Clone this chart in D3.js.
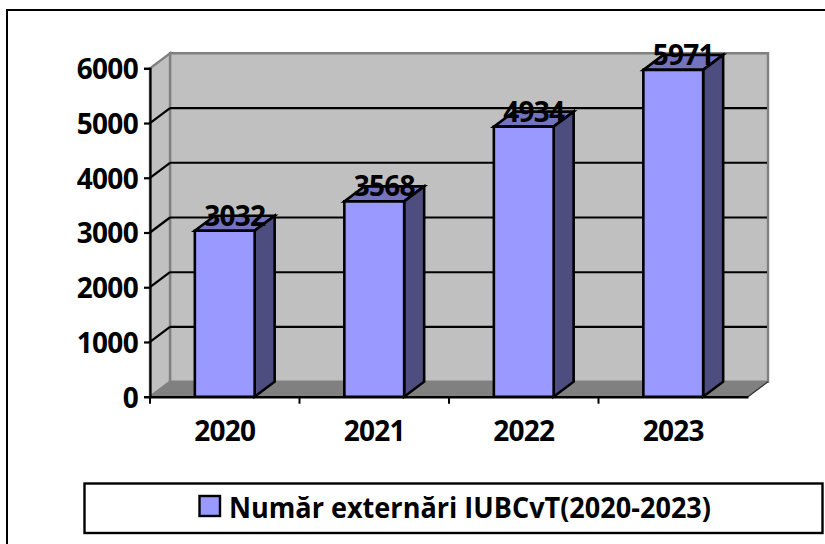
<!DOCTYPE html>
<html>
<head>
<meta charset="utf-8">
<title>Număr externări IUBCvT</title>
<script src="https://cdn.jsdelivr.net/npm/d3@7/dist/d3.min.js"></script>
<style>
  body { margin: 0; background: #fff; }
  text { font-family: "Open Sans", sans-serif; font-weight: 700; fill: #000; }
  .tick text, .value { font-family: "Open Sans", sans-serif; font-weight: 700; letter-spacing: -0.7px; }
</style>
</head>
<body>
<svg id="chart" width="825" height="544"></svg>
<script>
var years = ["2020", "2021", "2022", "2023"];
var externari = [3032, 3568, 4934, 5971];
var yTicks = [0, 1000, 2000, 3000, 4000, 5000, 6000];
var legendLabel = "Număr externări IUBCvT(2020-2023)";

var svg = d3.select("#chart");

// 3D offset of the back wall
var dx = 20, dy = -15;
var left = 150, right = 748, top6000 = 68.3, bottom = 396.7;
var fontSize = 28;
var barStroke = 2.6;

var x = d3.scaleBand().domain(years).range([left, right]).paddingInner(0.6).paddingOuter(0.3);
var y = d3.scaleLinear().domain([0, 6000]).range([bottom, top6000]);

function poly(points, fill, stroke, width) {
  return svg.append("polygon")
    .attr("points", points.map(function (p) { return p.join(","); }).join(" "))
    .attr("fill", fill)
    .attr("stroke", stroke)
    .attr("stroke-width", width)
    .attr("stroke-linejoin", "miter");
}

function line(x1, y1, x2, y2, color, width) {
  return svg.append("line")
    .attr("x1", x1).attr("y1", y1).attr("x2", x2).attr("y2", y2)
    .attr("stroke", color).attr("stroke-width", width);
}

// outer frame, only top and left are visible in the picture
line(7, 10, 825, 10, "#000", 2);
line(7, 9, 7, 544, "#000", 2);

// walls and floor
poly([[left + dx, bottom + dy], [right + dx, bottom + dy], [right + dx, top6000 + dy], [left + dx, top6000 + dy]], "#c0c0c0", "#808080", 2.4);
poly([[left, bottom], [left + dx, bottom + dy], [left + dx, top6000 + dy], [left, top6000]], "#c0c0c0", "#808080", 2.4);
poly([[left, bottom], [right, bottom], [right + dx, bottom + dy], [left + dx, bottom + dy]], "#808080", "#808080", 1);
line(right, bottom, right + dx, bottom + dy, "#333", 1.2);

// gridlines on the back wall and the side wall
yTicks.filter(function (d) { return d > 0 && d < 6000; }).forEach(function (d) {
  line(left, y(d), left + dx, y(d) + dy, "#000", 2.2);
  line(left + dx, y(d) + dy, right + dx - 1, y(d) + dy, "#000", 2.2);
});

// y axis
var yAxis = svg.append("g")
  .attr("transform", "translate(" + left + ",0)")
  .call(d3.axisLeft(y).tickValues(yTicks).tickFormat(d3.format("d")).tickSize(6).tickPadding(6));
yAxis.selectAll("path").attr("stroke", "#000").attr("stroke-width", 2.2);
yAxis.selectAll("line").attr("stroke", "#000").attr("stroke-width", 2.2);
yAxis.selectAll("text").attr("font-size", fontSize).attr("fill", "#000").attr("dy", "0.37em");

// x axis, tick marks sit between the categories
var xAxis = svg.append("g")
  .attr("transform", "translate(0," + bottom + ")")
  .call(d3.axisBottom(x).tickSize(0).tickPadding(24).tickSizeOuter(0));
xAxis.selectAll("path").attr("stroke", "#000").attr("stroke-width", 2.6);
xAxis.selectAll("text").attr("font-size", fontSize).attr("fill", "#000");
d3.range(years.length).forEach(function (i) {
  var tx = left + i * x.step();
  line(tx, bottom, tx, bottom + 7, "#000", 2);
});

// bars
years.forEach(function (yr, i) {
  var x0 = x(yr), x1 = x0 + x.bandwidth(), yTop = y(externari[i]);
  poly([[x0, yTop], [x1, yTop], [x1 + dx, yTop + dy], [x0 + dx, yTop + dy]], "#7373bf", "#000", barStroke);
  poly([[x1, yTop], [x1 + dx, yTop + dy], [x1 + dx, bottom + dy], [x1, bottom]], "#4d4d80", "#000", barStroke);
  poly([[x0, yTop], [x1, yTop], [x1, bottom], [x0, bottom]], "#9999ff", "#000", barStroke);
});

// value labels
svg.selectAll(".value")
  .data(externari)
  .enter()
  .append("text")
  .attr("class", "value")
  .attr("x", function (d, i) { return x(years[i]) + x.bandwidth() / 2 + 10; })
  .attr("y", function (d) { return y(d) - 5; })
  .attr("text-anchor", "middle")
  .attr("font-size", fontSize)
  .text(function (d) { return d; });

// legend
svg.append("rect")
  .attr("x", 84.5).attr("y", 483.5).attr("width", 738).attr("height", 49.5)
  .attr("fill", "#fff").attr("stroke", "#000").attr("stroke-width", 2.4);
svg.append("rect")
  .attr("x", 199.5).attr("y", 496).attr("width", 20.5).attr("height", 20)
  .attr("fill", "#9999ff").attr("stroke", "#000").attr("stroke-width", 2.4);
svg.append("text")
  .attr("x", 229).attr("y", 518)
  .attr("font-size", 28)
  .attr("textLength", 482)
  .attr("lengthAdjust", "spacingAndGlyphs")
  .text(legendLabel);
</script>
</body>
</html>
